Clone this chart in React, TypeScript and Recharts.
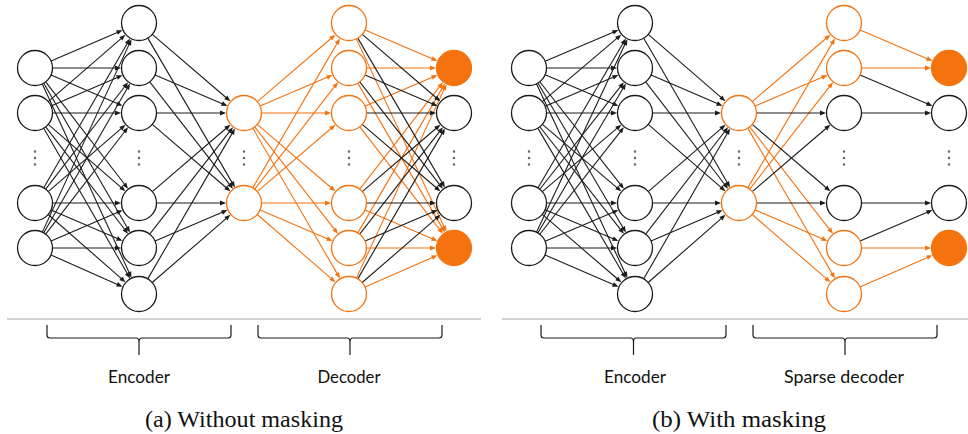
import { ScatterChart, Scatter, XAxis, YAxis, ReferenceLine, ReferenceDot } from 'recharts';

const W = 968;
const H = 434;
const R = 17.5;
const ORANGE = '#f5730f';
const INK = '#1c1c1c';

// vertical slots shared by every layer (chart units = px)
const slotY = [23, 68, 113, 203, 248, 294];
const ellipsisY = 158;

// x of the five layers in each panel
const layerXA = [35, 139, 244, 349, 454];
const layerXB = [529, 635, 739, 844, 949];

// which slots each layer uses: input, hidden, bottleneck, hidden, output
const layerSlots = [
  [1, 2, 3, 4],
  [0, 1, 2, 3, 4, 5],
  [2, 3],
  [0, 1, 2, 3, 4, 5],
  [1, 2, 3, 4],
];

// k = black ring, o = orange ring, f = orange filled
const nodeStyleA = [
  ['k', 'k', 'k', 'k'],
  ['k', 'k', 'k', 'k', 'k', 'k'],
  ['o', 'o'],
  ['o', 'o', 'o', 'o', 'o', 'o'],
  ['f', 'k', 'k', 'f'],
];
const nodeStyleB = [
  ['k', 'k', 'k', 'k'],
  ['k', 'k', 'k', 'k', 'k', 'k'],
  ['o', 'o'],
  ['o', 'o', 'k', 'k', 'o', 'o'],
  ['f', 'k', 'k', 'f'],
];

// masked decoder output links (from hidden slot, to output slot)
const sparseLinksB: [number, number][] = [
  [0, 1], [1, 1], [1, 2], [2, 2], [3, 3], [4, 3], [4, 4], [5, 4],
];

const braceLabelsA = ['Encoder', 'Decoder'];
const braceLabelsB = ['Encoder', 'Sparse decoder'];
const captions = ['(a) Without masking', '(b) With masking'];

type Node = { x: number; y: number; style: string };
type Edge = { x1: number; y1: number; x2: number; y2: number; color: string };

function buildNodes(layerX: number[], styles: string[][]): Node[] {
  const out: Node[] = [];
  layerSlots.forEach((slots, l) =>
    slots.forEach((s, i) => out.push({ x: layerX[l], y: slotY[s], style: styles[l][i] }))
  );
  return out;
}

function buildEdges(layerX: number[], styles: string[][], sparseLast?: [number, number][]): Edge[] {
  const out: Edge[] = [];
  for (let l = 0; l < layerSlots.length - 1; l++) {
    const from = layerSlots[l];
    const to = layerSlots[l + 1];
    let pairs: [number, number][] = [];
    if (l === layerSlots.length - 2 && sparseLast) {
      pairs = sparseLast.map(([a, b]) => [from.indexOf(a), to.indexOf(b)] as [number, number]);
    } else {
      from.forEach((_, i) => to.forEach((_, j) => pairs.push([i, j])));
    }
    pairs.forEach(([i, j]) => {
      const target = styles[l + 1][j];
      const color = l >= 2 && target !== 'k' ? ORANGE : INK;
      out.push({ x1: layerX[l], y1: slotY[from[i]], x2: layerX[l + 1], y2: slotY[to[j]], color });
    });
  }
  return out;
}

const nodes = [...buildNodes(layerXA, nodeStyleA), ...buildNodes(layerXB, nodeStyleB)];
const edgesRaw = [
  ...buildEdges(layerXA, nodeStyleA),
  ...buildEdges(layerXB, nodeStyleB, sparseLinksB),
];
// orange edges first so black ones sit on top as in the figure
const edges = [...edgesRaw.filter((e) => e.color === ORANGE), ...edgesRaw.filter((e) => e.color !== ORANGE)];
const ellipsis = [...layerXA, ...layerXB].map((x) => ({ x, y: ellipsisY }));

const Arrow = (p: any) => {
  const { x1, y1, x2, y2, stroke } = p;
  const dx = x2 - x1;
  const dy = y2 - y1;
  const len = Math.hypot(dx, dy);
  const ux = dx / len;
  const uy = dy / len;
  const sx = x1 + ux * R;
  const sy = y1 + uy * R;
  const ex = x2 - ux * (R + 0.5);
  const ey = y2 - uy * (R + 0.5);
  const hl = 6;
  const hw = 2.4;
  const bx = ex - ux * hl;
  const by = ey - uy * hl;
  const pts = `${ex},${ey} ${bx - uy * hw},${by + ux * hw} ${bx + uy * hw},${by - ux * hw}`;
  return (
    <g>
      <line x1={sx} y1={sy} x2={bx + ux} y2={by + uy} stroke={stroke} strokeWidth={1.1} />
      <polygon points={pts} fill={stroke} />
    </g>
  );
};

const NodeShape = (p: any) => {
  const { cx, cy, payload } = p;
  const st = payload.style;
  return (
    <circle
      cx={cx}
      cy={cy}
      r={R}
      fill={st === 'f' ? ORANGE : '#ffffff'}
      stroke={st === 'k' ? INK : ORANGE}
      strokeWidth={1.3}
    />
  );
};

const DotsShape = (p: any) => {
  const { cx, cy } = p;
  return (
    <g fill="#666">
      {[-6.5, 0, 6.5].map((d) => (
        <rect key={d} x={cx - 1.1} y={cy + d - 1.1} width={2.2} height={2.2} />
      ))}
    </g>
  );
};

const Brace = (p: any) => {
  const { x1, x2, y1 } = p;
  const cx = (x1 + x2) / 2;
  const top = y1 - 13;
  const d = [
    `M${x1},${top}`,
    `L${x1},${y1 - 3}`,
    `Q${x1},${y1} ${x1 + 3},${y1}`,
    `L${cx - 3},${y1}`,
    `Q${cx},${y1} ${cx},${y1 + 4}`,
    `L${cx},${y1 + 17}`,
    `M${cx},${y1 + 4}`,
    `Q${cx},${y1} ${cx + 3},${y1}`,
    `L${x2 - 3},${y1}`,
    `Q${x2},${y1} ${x2},${y1 - 3}`,
    `L${x2},${top}`,
  ].join(' ');
  return <path d={d} fill="none" stroke={INK} strokeWidth={1.2} />;
};

const SANS = 'Lato, "Open Sans", sans-serif';
const SERIF = '"Liberation Serif", "DejaVu Serif", serif';

const makeText = (text: string, size: number, family: string, length: number) => (p: any) =>
  (
    <text
      x={p.cx}
      y={p.cy}
      textAnchor="middle"
      fill="#111"
      textLength={length}
      lengthAdjust="spacingAndGlyphs"
      style={{ fontFamily: family, fontSize: size }}
    >
      {text}
    </text>
  );

const panels = [
  { layerX: layerXA, labels: braceLabelsA, caption: captions[0], sep: [7, 481], labelW: [62, 63], capW: 198 },
  { layerX: layerXB, labels: braceLabelsB, caption: captions[1], sep: [502, 968], labelW: [62, 120], capW: 174 },
];

export default function App() {
  return (
    <div style={{ position: 'absolute', left: 0, top: 0, width: W, height: H, background: '#fff' }}>
      <ScatterChart width={W} height={H} margin={{ top: 0, right: 0, bottom: 0, left: 0 }}>
        <XAxis type="number" dataKey="x" domain={[0, W]} allowDataOverflow hide />
        <YAxis type="number" dataKey="y" domain={[0, H]} allowDataOverflow reversed hide />
        {edges.map((e, i) => (
          <ReferenceLine
            key={`e${i}`}
            segment={[{ x: e.x1, y: e.y1 }, { x: e.x2, y: e.y2 }]}
            stroke={e.color}
            ifOverflow="visible"
            shape={Arrow}
          />
        ))}
        {panels.map((pn, k) => (
          <ReferenceLine
            key={`sep${k}`}
            segment={[{ x: pn.sep[0], y: 319 }, { x: pn.sep[1], y: 319 }]}
            stroke="#c4c4c4"
            strokeWidth={1.5}
            ifOverflow="visible"
          />
        ))}
        {panels.map((pn, k) =>
          [
            [pn.layerX[0] + 12, pn.layerX[2] - 13],
            [pn.layerX[2] + 14, pn.layerX[4] - 12],
          ].map(([a, b], j) => (
            <ReferenceLine
              key={`br${k}${j}`}
              segment={[{ x: a, y: 338 }, { x: b, y: 338 }]}
              ifOverflow="visible"
              shape={Brace}
            />
          ))
        )}
        {panels.map((pn, k) =>
          pn.labels.map((t, j) => (
            <ReferenceDot
              key={`lb${k}${j}`}
              x={pn.layerX[1 + 2 * j]}
              y={383}
              r={0}
              ifOverflow="visible"
              shape={makeText(t, 18, SANS, pn.labelW[j])}
            />
          ))
        )}
        {panels.map((pn, k) => (
          <ReferenceDot
            key={`cap${k}`}
            x={pn.layerX[2]}
            y={427}
            r={0}
            ifOverflow="visible"
            shape={makeText(pn.caption, 24, SERIF, pn.capW)}
          />
        ))}
        <Scatter data={ellipsis} shape={DotsShape} isAnimationActive={false} />
        <Scatter data={nodes} shape={NodeShape} isAnimationActive={false} />
      </ScatterChart>
    </div>
  );
}
